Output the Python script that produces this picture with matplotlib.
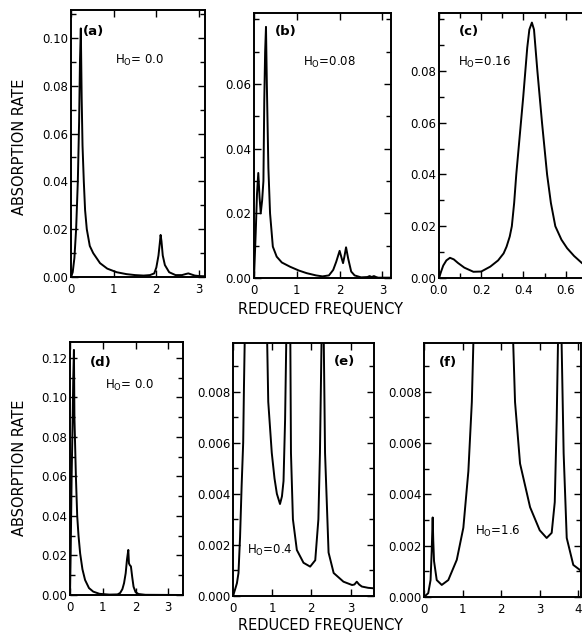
import matplotlib
matplotlib.use("Agg")
import matplotlib.pyplot as plt
from matplotlib.ticker import MultipleLocator, FormatStrFormatter, FixedLocator

# ---------------- data ----------------
a_x = [0, 0.04, 0.08, 0.12, 0.16, 0.19, 0.21, 0.23, 0.25, 0.27, 0.30, 0.33, 0.37, 0.44, 0.52,
       0.68, 0.85, 1.07, 1.3, 1.5, 1.7, 1.85, 1.95, 2.0, 2.05, 2.08, 2.1, 2.12, 2.15, 2.2,
       2.3, 2.45, 2.6, 2.7, 2.75, 2.8, 2.9, 3.0, 3.15]
a_y = [0, 0.002, 0.008, 0.02, 0.04, 0.065, 0.09, 0.104, 0.075, 0.055, 0.04, 0.028, 0.02, 0.013, 0.01,
       0.0058, 0.0035, 0.002, 0.0012, 0.0008, 0.0006, 0.0008, 0.0015, 0.004, 0.009, 0.014, 0.0176, 0.015, 0.009, 0.005,
       0.002, 0.0008, 0.0008, 0.0013, 0.0015, 0.0012, 0.0006, 0.0004, 0.0003]

b_x = [0, 0.04, 0.07, 0.1, 0.13, 0.157, 0.19, 0.22, 0.24, 0.26, 0.28, 0.30, 0.336, 0.375, 0.44,
       0.53, 0.65, 0.84, 1.05, 1.23, 1.45, 1.6, 1.75, 1.85, 1.92, 2.0, 2.05, 2.08, 2.11, 2.15,
       2.2, 2.27, 2.35, 2.5, 2.65, 2.7, 2.75, 2.8, 2.85, 2.9, 3.0, 3.2]
b_y = [0, 0.014, 0.026, 0.0325, 0.025, 0.020, 0.024, 0.03, 0.055, 0.07, 0.0777, 0.06, 0.034, 0.02, 0.0097,
       0.0066, 0.0048, 0.0035, 0.0023, 0.0015, 0.0008, 0.0005, 0.0008, 0.0025, 0.005, 0.0084, 0.006, 0.0046, 0.0065, 0.0095,
       0.006, 0.002, 0.0008, 0.0002, 0.0003, 0.0006, 0.0003, 0.0006, 0.0003, 0.0001, 0.0001, 0.0001]

c_x = [0, 0.01, 0.02, 0.035, 0.052, 0.07, 0.09, 0.12, 0.163, 0.2, 0.243, 0.28, 0.306, 0.32,
       0.335, 0.345, 0.356, 0.366, 0.377, 0.388, 0.399, 0.409, 0.418, 0.428, 0.44, 0.45,
       0.458, 0.466, 0.477, 0.488, 0.5, 0.512, 0.53, 0.551, 0.58, 0.607, 0.64, 0.678, 0.72]
c_y = [0, 0.0025, 0.0048, 0.0068, 0.0078, 0.0072, 0.0058, 0.004, 0.0024, 0.0025, 0.0044, 0.0068, 0.0095, 0.0121,
       0.016, 0.02, 0.029, 0.04, 0.05, 0.06, 0.07, 0.08, 0.089, 0.096, 0.0987, 0.096,
       0.088, 0.08, 0.07, 0.06, 0.05, 0.04, 0.029, 0.02, 0.0148, 0.0115, 0.0085, 0.0057, 0.0042]

d_x = [0, 0.02, 0.05, 0.08, 0.1, 0.12, 0.135, 0.15, 0.18, 0.22, 0.26, 0.31, 0.38, 0.46, 0.58,
       0.71, 0.9, 1.2, 1.45, 1.53, 1.6, 1.65, 1.7, 1.74, 1.78, 1.8, 1.83, 1.86, 1.9, 1.94,
       2.0, 2.09, 2.3, 3.45]
d_y = [0, 0.02, 0.06, 0.088, 0.11, 0.124, 0.09, 0.08, 0.06, 0.04, 0.03, 0.021, 0.013, 0.0076, 0.0035,
       0.0017, 0.0006, 0.0002, 0.0003, 0.001, 0.003, 0.006, 0.011, 0.018, 0.0228, 0.016, 0.015, 0.0145, 0.009, 0.0042,
       0.0015, 0.0005, 0.0001, 0]

e_x = [0, 0.05, 0.1, 0.14, 0.18, 0.22, 0.26, 0.28, 0.31, 0.35, 0.6, 0.82, 0.86, 0.9, 0.99,
       1.06, 1.12, 1.2, 1.25, 1.29, 1.33, 1.37, 1.4, 1.43, 1.46, 1.48, 1.53, 1.63, 1.8, 1.97,
       2.1, 2.18, 2.22, 2.27, 2.29, 2.31, 2.35, 2.44, 2.57, 2.82, 3.04, 3.1, 3.16, 3.22, 3.29,
       3.45, 3.6]
e_y = [0, 0.00024, 0.0005, 0.0009, 0.0023, 0.0043, 0.006, 0.0082, 0.011, 0.02, 0.05, 0.02, 0.011, 0.0076, 0.0056,
       0.0046, 0.004, 0.0036, 0.0039, 0.0045, 0.0069, 0.011, 0.02, 0.02, 0.011, 0.0056, 0.003, 0.0018, 0.0013, 0.00115,
       0.0014, 0.003, 0.0056, 0.011, 0.03, 0.011, 0.0056, 0.0017, 0.0009, 0.00056, 0.00043, 0.00045, 0.00056, 0.00045, 0.00037,
       0.00032, 0.0003]

f_x = [0, 0.11, 0.17, 0.2, 0.225, 0.24, 0.26, 0.33, 0.46, 0.63, 0.85, 1.02, 1.15, 1.24, 1.29,
       1.4, 1.8, 2.2, 2.3, 2.36, 2.49, 2.75, 3.0, 3.18, 3.31, 3.39, 3.44, 3.48, 3.52, 3.56,
       3.62, 3.7, 3.87, 4.09]
f_y = [0, 0.00015, 0.00066, 0.0018, 0.0031, 0.0022, 0.0014, 0.00066, 0.00047, 0.00066, 0.00145, 0.0027, 0.0049, 0.0076, 0.0105,
       0.02, 0.05, 0.02, 0.0105, 0.0076, 0.0052, 0.0035, 0.0026, 0.0023, 0.0025, 0.0037, 0.0069, 0.0105, 0.03, 0.0105,
       0.0056, 0.0023, 0.00125, 0.001]

panel_letters = ["(a)", "(b)", "(c)", "(d)", "(e)", "(f)"]
field_labels = [r"H$_\mathrm{O}$= 0.0", r"H$_\mathrm{O}$=0.08", r"H$_\mathrm{O}$=0.16",
                r"H$_\mathrm{O}$= 0.0", r"H$_\mathrm{O}$=0.4", r"H$_\mathrm{O}$=1.6"]

# ---------------- figure ----------------
plt.rcParams['font.family'] = ['DejaVu Sans']
W, H = 582, 634
fig = plt.figure(figsize=(W / 100, H / 100), dpi=100)

def box(l, r, t, b):
    return [l / W, 1 - b / H, (r - l) / W, (b - t) / H]

specs = [
    (box(71, 205, 10, 277), a_x, a_y, (0, 3.14), (0, 0.1117), 1, None,
     [0, 0.02, 0.04, 0.06, 0.08, 0.10], 0.01, '%.2f', '%d', (0.17, 0.92), (0.51, 0.81)),
    (box(254, 391, 13, 278), b_x, b_y, (0, 3.2), (0, 0.082), 1, None,
     [0, 0.02, 0.04, 0.06], 0.01, '%.2f', '%d', (0.23, 0.93), (0.55, 0.815)),
    (box(439, 591, 13, 278), c_x, c_y, (0, 0.72), (0, 0.1024), 0.2, 0.1,
     [0, 0.02, 0.04, 0.06, 0.08], 0.01, '%.2f', '%.1f', (0.20, 0.93), (0.30, 0.815)),
    (box(70, 183, 342, 595), d_x, d_y, (0, 3.45), (0, 0.128), 1, None,
     [0, 0.02, 0.04, 0.06, 0.08, 0.10, 0.12], 0.01, '%.2f', '%d', (0.27, 0.92), (0.53, 0.83)),
    (box(233, 374, 343, 596), e_x, e_y, (0, 3.6), (0, 0.0099), 1, None,
     [0, 0.002, 0.004, 0.006, 0.008], 0.001, '%.3f', '%d', (0.79, 0.925), (0.26, 0.18)),
    (box(424, 581, 343, 597), f_x, f_y, (0, 4.07), (0, 0.0099), 1, None,
     [0, 0.002, 0.004, 0.006, 0.008], 0.001, '%.3f', '%d', (0.15, 0.925), (0.47, 0.26)),
]

for i, (rect, x, y, xl, yl, xmaj, xmin, ymaj, ymin, yfmt, xfmt, lp, hp) in enumerate(specs):
    ax = fig.add_axes(rect)
    ax.plot(x, y, color='black', lw=1.4, solid_joinstyle='round')
    ax.set_xlim(*xl)
    ax.set_ylim(*yl)
    ax.xaxis.set_major_locator(MultipleLocator(xmaj))
    if xmin:
        ax.xaxis.set_minor_locator(MultipleLocator(xmin))
    ax.yaxis.set_major_locator(FixedLocator(ymaj))
    ax.yaxis.set_minor_locator(MultipleLocator(ymin))
    ax.yaxis.set_major_formatter(FormatStrFormatter(yfmt))
    ax.xaxis.set_major_formatter(FormatStrFormatter(xfmt))
    ax.tick_params(which='both', direction='in', top=True, right=True,
                   labelsize=8.5, width=1.0)
    ax.tick_params(axis='y', pad=2)
    ax.tick_params(axis='x', pad=4)
    ax.tick_params(which='major', length=5)
    ax.tick_params(which='minor', length=3.5)
    for s in ax.spines.values():
        s.set_linewidth(1.4)
    ax.text(lp[0], lp[1], panel_letters[i], transform=ax.transAxes,
            ha='center', va='center', fontsize=9.5, fontweight='bold')
    ax.text(hp[0], hp[1], field_labels[i], transform=ax.transAxes,
            ha='center', va='center', fontsize=8.5)

fig.text(20 / W, 1 - 147 / H, "ABSORPTION RATE", rotation=90, ha='center', va='center', fontsize=10.5)
fig.text(20 / W, 1 - 468 / H, "ABSORPTION RATE", rotation=90, ha='center', va='center', fontsize=10.5)
fig.text(320 / W, 1 - 309 / H, "REDUCED FREQUENCY", ha='center', va='center', fontsize=10.5)
fig.text(320 / W, 1 - 625 / H, "REDUCED FREQUENCY", ha='center', va='center', fontsize=10.5)

fig.savefig("out.png", dpi=100, facecolor='white')
